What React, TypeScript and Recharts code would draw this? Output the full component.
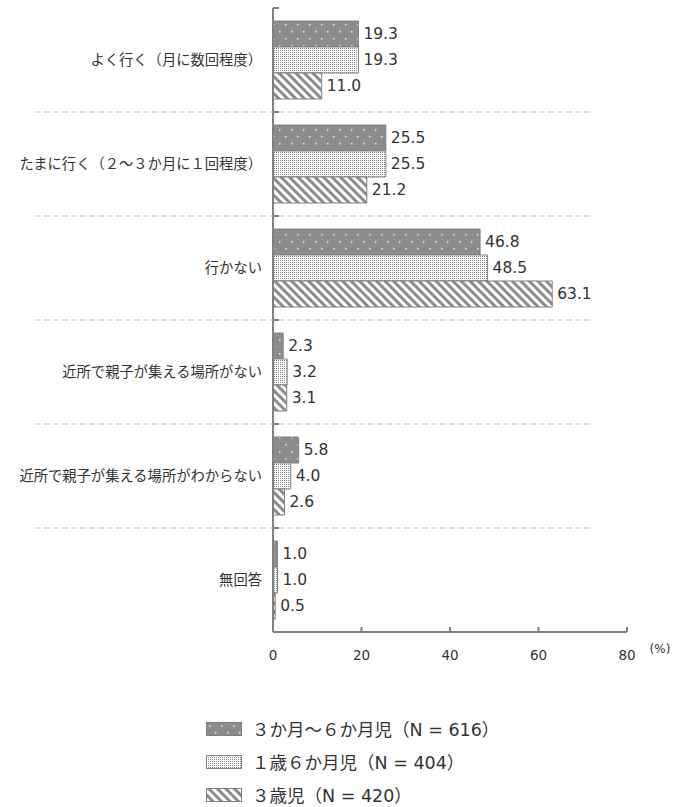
import { BarChart, Bar, XAxis, YAxis, LabelList } from 'recharts';

const categories = [
  'よく行く（月に数回程度）',
  'たまに行く（２～３か月に１回程度）',
  '行かない',
  '近所で親子が集える場所がない',
  '近所で親子が集える場所がわからない',
  '無回答',
];
const infant = [19.3, 25.5, 46.8, 2.3, 5.8, 1.0];
const toddler = [19.3, 25.5, 48.5, 3.2, 4.0, 1.0];
const threeYear = [11.0, 21.2, 63.1, 3.1, 2.6, 0.5];
const seriesNames = ['３か月～６か月児（N = 616）', '１歳６か月児（N = 404）', '３歳児（N = 420）'];
const xTicks = [0, 20, 40, 60, 80];

const data = categories.map((name, i) => ({
  name,
  infant: infant[i],
  toddler: toddler[i],
  threeYear: threeYear[i],
}));

const CHART_W = 692;
const CHART_H = 807;
const MARGIN = { top: 8, right: 65, left: 0, bottom: 145 };
const Y_WIDTH = 273;
const X_HEIGHT = 30;
const PLOT_H = CHART_H - MARGIN.top - MARGIN.bottom - X_HEIGHT;
const BAND = PLOT_H / categories.length;

const AXIS = '#808080';
const JP = '"Noto Sans CJK JP", "Noto Sans", sans-serif';
const NUM = '"DejaVu Sans", "Noto Sans CJK JP", sans-serif';

const fills = ['url(#pDots)', 'url(#pFine)', 'url(#pStripe)'];

function Patterns() {
  return (
    <svg width={0} height={0} style={{ position: 'absolute' }}>
      <defs>
        <pattern id="pDots" width={12} height={14} patternUnits="userSpaceOnUse">
          <rect width={12} height={14} fill="#8c8c8c" />
          <rect x={3} y={3} width={1.5} height={1.5} fill="#e6e6e6" />
          <rect x={9} y={10} width={1.5} height={1.5} fill="#e6e6e6" />
        </pattern>
        <pattern id="pFine" width={2} height={2} patternUnits="userSpaceOnUse">
          <rect width={2} height={2} fill="#ffffff" />
          <rect width={1} height={1} fill="#8a8a8a" />
        </pattern>
        <pattern
          id="pStripe"
          width={6}
          height={6}
          patternUnits="userSpaceOnUse"
          patternTransform="rotate(-45)"
        >
          <rect width={6} height={6} fill="#ffffff" />
          <rect width={3} height={6} fill="#8c8c8c" />
        </pattern>
      </defs>
    </svg>
  );
}

function CategoryTick(props: any) {
  const { x, y, payload, index } = props;
  const axisX = x + 11;
  return (
    <g>
      <text
        x={x}
        y={y - 2}
        textAnchor="end"
        dominantBaseline="central"
        fontSize={14.3}
        fontFamily={JP}
        fill="#333"
      >
        {payload.value}
      </text>
      {index < categories.length - 1 && (
        <line
          x1={35}
          x2={590}
          y1={y + BAND / 2}
          y2={y + BAND / 2}
          stroke="#bfbfbf"
          strokeDasharray="6 3"
        />
      )}
      <line x1={axisX} x2={axisX + 6} y1={y + BAND / 2} y2={y + BAND / 2} stroke={AXIS} strokeWidth={2} />
      {index === 0 && (
        <line x1={axisX} x2={axisX + 6} y1={y - BAND / 2} y2={y - BAND / 2} stroke={AXIS} strokeWidth={2} />
      )}
    </g>
  );
}

function ValueTick(props: any) {
  const { x, y, payload } = props;
  return (
    <g>
      <line x1={x} x2={x} y1={y - 5} y2={y} stroke={AXIS} strokeWidth={2} />
      <text x={x} y={y + 28} textAnchor="middle" fontSize={13.5} fontFamily={NUM} fill="#333">
        {payload.value}
      </text>
      {payload.value === xTicks[xTicks.length - 1] && (
        <text x={x + 33} y={y + 21} textAnchor="middle" fontSize={12} fontFamily={NUM} fill="#333">
          (%)
        </text>
      )}
    </g>
  );
}

function ValueLabel(props: any) {
  const { x, y, width, height, value } = props;
  return (
    <text
      x={x + width + 5}
      y={y + height / 2}
      dominantBaseline="central"
      fontSize={15.5}
      fontFamily={NUM}
      fill="#333"
    >
      {Number(value).toFixed(1)}
    </text>
  );
}

function Swatch({ fill }: { fill: string }) {
  return (
    <svg width={36} height={14} style={{ display: 'block' }}>
      <rect x={0.5} y={0.5} width={35} height={13} fill={fill} stroke={AXIS} />
    </svg>
  );
}

export default function App() {
  const keys = ['infant', 'toddler', 'threeYear'];
  return (
    <div
      style={{
        position: 'absolute',
        left: 0,
        top: 0,
        width: CHART_W,
        height: CHART_H,
        background: '#fff',
      }}
    >
      <Patterns />
      <BarChart
        width={CHART_W}
        height={CHART_H}
        data={data}
        layout="vertical"
        margin={MARGIN}
        barSize={26}
        barGap={0}
      >
        <XAxis
          type="number"
          domain={[0, 80]}
          ticks={xTicks}
          height={X_HEIGHT}
          axisLine={{ stroke: AXIS, strokeWidth: 2 }}
          tickLine={false}
          tickSize={0}
          tickMargin={0}
          tick={<ValueTick />}
          interval={0}
        />
        <YAxis
          type="category"
          dataKey="name"
          width={Y_WIDTH}
          axisLine={{ stroke: AXIS, strokeWidth: 2 }}
          tickLine={false}
          tickSize={0}
          tickMargin={11}
          tick={<CategoryTick />}
          interval={0}
        />
        {keys.map((k, i) => (
          <Bar key={k} dataKey={k} fill={fills[i]} stroke={AXIS} strokeWidth={1} isAnimationActive={false}>
            <LabelList dataKey={k} content={<ValueLabel />} />
          </Bar>
        ))}
      </BarChart>
      <div style={{ position: 'absolute', left: 206, top: 712 }}>
        {seriesNames.map((n, i) => (
          <div key={n} style={{ display: 'flex', alignItems: 'center', height: 33 }}>
            <Swatch fill={fills[i]} />
            <span
              style={{
                marginLeft: 10,
                fontSize: 17.5,
                fontFamily: NUM,
                color: '#333',
                whiteSpace: 'pre',
              }}
            >
              {n}
            </span>
          </div>
        ))}
      </div>
    </div>
  );
}
